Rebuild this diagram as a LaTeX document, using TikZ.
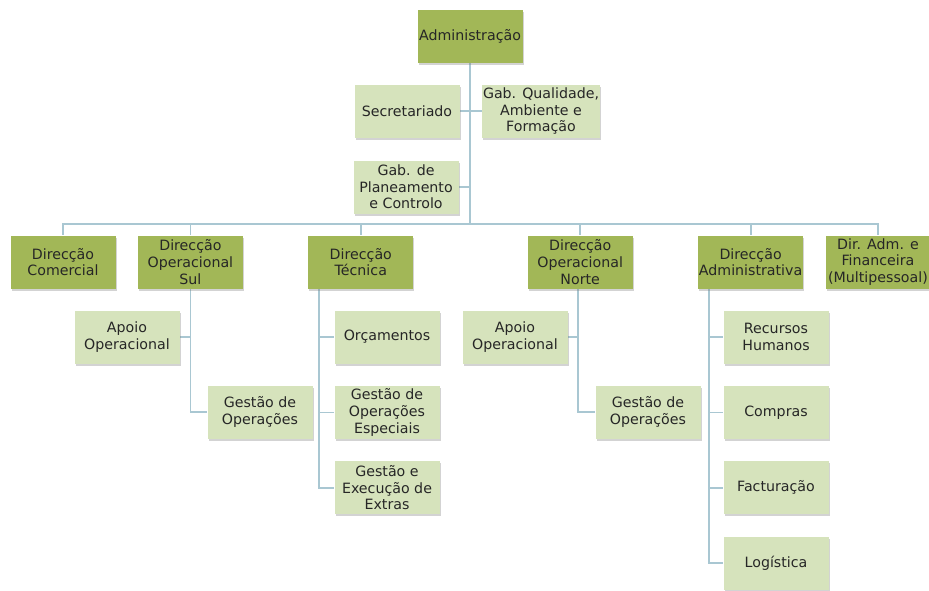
\documentclass[tikz,border=0pt]{standalone}
\usepackage{fontspec}
\setmainfont{DejaVu Sans}
\usetikzlibrary{positioning,shadows,backgrounds}

\definecolor{darkolive}{HTML}{A2B757}
\definecolor{lightolive}{HTML}{D6E3BC}
\definecolor{linkblue}{HTML}{A9C7D2}

\begin{document}
\begin{tikzpicture}[
  x=1pt, y=-1pt,
  unit/.style={draw=none, align=center, minimum width=105pt, minimum height=53pt, inner sep=0.5pt,
    font=\fontsize{14.2}{16.6}\selectfont, text=black!85,
    drop shadow={shadow xshift=1pt, shadow yshift=-2pt, opacity=0.35}},
  head/.style={unit, fill=darkolive},
  sub/.style={unit, fill=lightolive},
  link/.style={draw=linkblue, line width=1.8pt},
]
\useasboundingbox (0,0) rectangle (929,590);

% === Top ===
\node[head] (adm) at (470,36) {Administração};
\node[sub] (sec) at (407,111) {Secretariado};
\node[sub, minimum width=118pt] (qua) at (541,111) {Gab. Qualidade,\\Ambiente e\\Formação};
\node[sub] (pla) at (406,187) {Gab. de\\Planeamento\\e Controlo};
\coordinate (bus) at (470,224);

% === Direcções ===
\node[head] (com) at (63,262) {Direcção\\Comercial};
\node[head, right=22pt of com] (sul) {Direcção\\Operacional\\Sul};
\node[head, right=65pt of sul] (tec) {Direcção\\Técnica};
\node[head, right=114pt of tec] (nor) {Direcção\\Operacional\\Norte};
\node[head, right=65pt of nor] (dadm) {Direcção\\Administrativa};
\node[head, right=22pt of dadm] (fin) {Dir. Adm. e\\Financeira\\(Multipessoal)};

% === Sul ===
\node[sub] (apsul) at (127,337) {Apoio\\Operacional};
\node[sub] (gosul) at (260,412) {Gestão de\\Operações};

% === Técnica ===
\node[sub] (orc) at (387,337) {Orçamentos};
\node[sub, below=22pt of orc] (goesp) {Gestão de\\Operações\\Especiais};
\node[sub, below=22pt of goesp] (extra) {Gestão e\\Execução de\\Extras};

% === Norte ===
\node[sub] (apnor) at (515,337) {Apoio\\Operacional};
\node[sub] (gonor) at (648,412) {Gestão de\\Operações};

% === Administrativa ===
\node[sub] (rh) at (776,337) {Recursos\\Humanos};
\node[sub, below=22pt of rh] (cmp) {Compras};
\node[sub, below=22pt of cmp] (fact) {Facturação};
\node[sub, below=22pt of fact] (log) {Logística};

% === Links ===
\begin{scope}[on background layer]
\draw[link] (adm) -- (bus);
\draw[link] (sec.east) -- (qua.west);
\draw[link] (pla.east) -- (pla.east -| adm.south);
\foreach \d in {com,sul,tec,nor,dadm,fin}
  \draw[link] (bus) -| (\d.north);
\draw[link] (sul.south) |- (apsul.east);
\draw[link] (sul.south) |- (gosul.west);
\foreach \c in {orc,goesp,extra}
  \draw[link] ([xshift=11pt]tec.south west) |- (\c.west);
\draw[link] ([xshift=-2pt]nor.south) |- (apnor.east);
\draw[link] ([xshift=-2pt]nor.south) |- (gonor.west);
\foreach \c in {rh,cmp,fact,log}
  \draw[link] ([xshift=11pt]dadm.south west) |- (\c.west);
\end{scope}

\end{tikzpicture}
\end{document}
